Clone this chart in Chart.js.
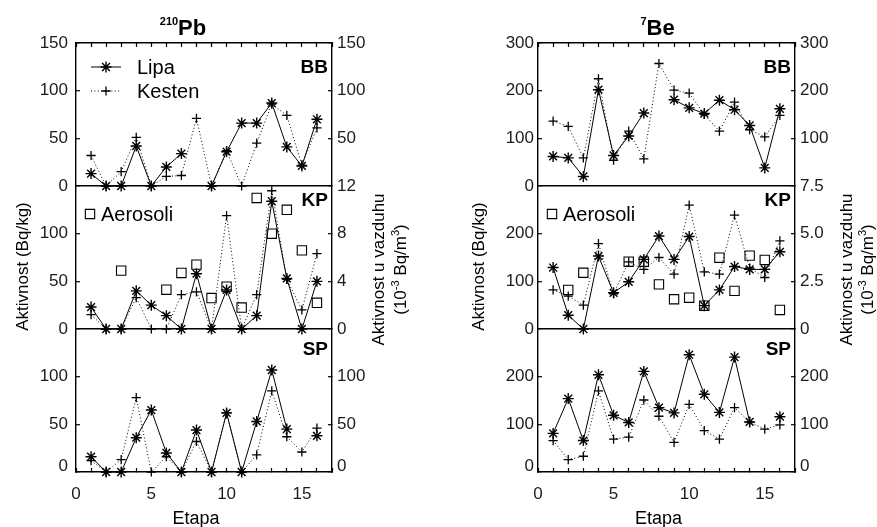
<!DOCTYPE html>
<html>
<head>
<meta charset="utf-8">
<script src="https://cdn.jsdelivr.net/npm/chart.js@4.4.1/dist/chart.umd.min.js"></script>
<style>
html,body{margin:0;padding:0;background:#fff;width:877px;height:527px;overflow:hidden;}
canvas{position:absolute;top:0;}
#cPb{left:0;}
#cBe{left:438px;}
</style>
</head>
<body>
<canvas id="cPb" width="438" height="527"></canvas>
<canvas id="cBe" width="439" height="527"></canvas>
<script>
// ---------------- data ----------------
const etapa = [1,2,3,4,5,6,7,8,9,10,11,12,13,14,15,16];
const etapaTicks = [0,1,2,3,4,5,6,7,8,9,10,11,12,13,14,15,16,17];
const etapaTickLabels = [0,5,10,15];

// 210Pb (Bq/kg), aerosoli in 10^-3 Bq/m3
const pbLipaBB    = [13,0,0,42,0,20,34,null,0,36,66,66,87,41,21,70];
const pbKestenBB  = [32,0,15,51,0,10,11,71,0,37,0,45,86,74,22,61];
const pbLipaKP    = [23,0,0,40,25,14,0,58,0,41,0,14,134,53,0,50];
const pbKestenKP  = [15,0,0,33,0,0,36,39,0,119,0,36,145,52,20,79];
const pbAerosoliKP= [null,null,4.9,null,null,3.3,4.7,5.4,2.6,3.55,1.8,11,8,10,6.6,2.2];
const pbLipaSP    = [16,0,0,36,65,20,0,44,0,62,0,53,107,45,null,38];
const pbKestenSP  = [12,0,13,78,0,16,0,32,0,62,0,18,85,37,21,46];

// 7Be
const beLipaBB    = [62,59,20,202,64,105,153,null,181,164,152,180,160,127,38,162];
const beKestenBB  = [136,125,59,225,54,115,57,257,201,195,150,115,176,118,103,148];
const beLipaKP    = [129,29,0,153,76,99,146,195,146,194,49,82,131,125,125,162];
const beKestenKP  = [82,69,50,179,74,141,125,150,115,260,120,115,239,128,108,185];
const beAerosoliKP= [null,2.05,2.95,null,null,3.53,3.53,2.34,1.56,1.64,1.22,3.74,2.0,3.85,3.62,1.0];
const beLipaSP    = [81,154,66,204,119,104,211,135,124,246,163,125,241,105,null,116];
const beKestenSP  = [66,26,33,170,69,73,151,117,62,142,87,69,135,105,90,99];

// tick values / labels
const pbLeftTicksBB  = [0,50,100,150];
const pbLeftTicksKP  = [0,50,100];
const pbLeftTicksSP  = [0,50,100];
const pbRightTicksBB = [50,100,150];
const pbRightTicksKP = [0,4,8,12];
const pbRightTicksSP = [0,50,100];

const beLeftTicksBB  = [0,100,200,300];
const beLeftTicksKP  = [0,100,200];
const beLeftTicksSP  = [0,100,200];
const beRightTicksBB = [100,200,300];
const beRightTicksKP = [0,2.5,5,7.5];
const beRightTickLabelsKP = ['0','2.5','5.0','7.5'];
const beRightTicksSP = [0,100,200];

// ---------------- styling ----------------
const FONT = "'Liberation Sans', Arial, Helvetica, sans-serif";
const INK = '#000';
const TICK_INK = '#1c1c1c';
const AXIS_W = 1.4;

function pts(arr){ return etapa.map((e,i)=>({x:e, y:arr[i]})); }
function fixedTicks(values){ return s => { s.ticks = values.map(v=>({value:v})); }; }

function lipaDs(arr, axis){
  return {label:'Lipa', data:pts(arr), xAxisID:'x', yAxisID:axis,
    borderColor:INK, borderWidth:1, pointStyle:'star', pointRadius:5.5, pointHoverRadius:5.5,
    pointBorderWidth:1.4, pointBorderColor:INK, pointBackgroundColor:INK,
    fill:false, tension:0, spanGaps:false, clip:false};
}
function kestenDs(arr, axis){
  return {label:'Kesten', data:pts(arr), xAxisID:'x', yAxisID:axis,
    borderColor:INK, borderWidth:1, borderDash:[1,2.4], pointStyle:'cross', pointRadius:4.6, pointHoverRadius:4.6,
    pointBorderWidth:1.3, pointBorderColor:INK, pointBackgroundColor:INK,
    fill:false, tension:0, spanGaps:false, clip:false};
}
function aerDs(arr, axis){
  return {label:'Aerosoli', data:pts(arr), xAxisID:'x', yAxisID:axis, showLine:false,
    borderColor:INK, pointStyle:'rect', pointRadius:6.6, pointHoverRadius:6.6,
    pointBorderWidth:1.1, pointBorderColor:INK, pointBackgroundColor:'rgba(0,0,0,0)', clip:false};
}

function yAxis(o){
  return {
    type:'linear', position:o.pos, stack:'col', stackWeight:1,
    min:o.min, max:o.max,
    afterBuildTicks: fixedTicks(o.ticks),
    afterFit: s => { s.width = o.width; },
    ticks:{
      padding:o.pad, color:TICK_INK, autoSkip:false,
      font: c => ({family:FONT, size:17, lineHeight:(o.shiftZero && c.tick && c.tick.value===0) ? 0.62 : 1.2}),
      callback: (v,i) => {
        const lab = o.labels ? o.labels[i] : String(v);
        return (o.shiftZero && v===0) ? [lab,''] : lab;
      }
    },
    grid:{
      drawOnChartArea:!!o.sep, drawTicks:true, tickLength:-4, tickColor:INK, tickWidth:1.2, lineWidth:AXIS_W,
      color: c => (o.sep && c.tick && c.tick.value===0) ? INK : 'rgba(0,0,0,0)'
    },
    border:{display:true, color:INK, width:AXIS_W}
  };
}

function xAxis(pos){
  const bottom = pos==='bottom';
  return {
    type:'linear', position:pos, min:0, max:17,
    afterBuildTicks: fixedTicks(etapaTicks),
    afterFit: s => { s.height = bottom ? 55 : 0; },
    ticks:{display:bottom, autoSkip:false, maxRotation:0, padding:16, color:TICK_INK,
      font:{family:FONT, size:17},
      callback: v => etapaTickLabels.includes(v) ? String(v) : ''},
    grid:{drawOnChartArea:false, drawTicks:true, tickLength:-4, tickColor:INK, tickWidth:1.2},
    border:{display:true, color:INK, width:AXIS_W}
  };
}

// ---------------- text helpers ----------------
function fontStr(s){ return (s.bold ? 'bold ' : '') + s.size + 'px ' + FONT; }
function rich(ctx, segs, cx, y){
  let w = 0;
  segs.forEach(s => { ctx.font = fontStr(s); s.w = ctx.measureText(s.t).width; w += s.w; });
  let x = cx - w/2;
  ctx.textAlign = 'left'; ctx.textBaseline = 'alphabetic';
  segs.forEach(s => { ctx.font = fontStr(s); ctx.fillText(s.t, x, y + (s.dy||0)); x += s.w; });
}
function vrich(ctx, segs, x, cy){
  ctx.save(); ctx.translate(x, cy); ctx.rotate(-Math.PI/2);
  rich(ctx, segs, 0, segs[0].size*0.36);
  ctx.restore();
}
function marker(ctx, style, r, bw, x, y){
  ctx.save(); ctx.setLineDash([]); ctx.lineWidth = bw; ctx.strokeStyle = INK;
  ctx.fillStyle = style==='rect' ? 'rgba(0,0,0,0)' : INK;
  Chart.helpers.drawPoint(ctx, {pointStyle:style, radius:r, borderWidth:bw, rotation:0}, x, y);
  ctx.restore();
}

const decor = {
  id:'decor',
  afterDraw(chart, args, o){
    const ctx = chart.ctx, ca = chart.chartArea, sc = chart.scales;
    const cx = (ca.left + ca.right)/2;
    ctx.save();
    ctx.fillStyle = INK; ctx.strokeStyle = INK;
    // main title
    rich(ctx, [{t:o.sup, size:11, bold:true, dy:-10}, {t:o.main, size:22, bold:true}], cx + o.titleDx, ca.top - 8);
    // x title
    rich(ctx, [{t:'Etapa', size:18}], cx + o.xTitleDx, ca.bottom + 52);
    // y titles
    const kpMid = (sc.yKP.top + sc.yKP.bottom)/2;
    vrich(ctx, [{t:'Aktivnost (Bq/kg)', size:17}], ca.left + o.yTitleDx, kpMid + 9);
    vrich(ctx, [{t:'Aktivnost u vazduhu', size:17}], ca.right + o.rTitleDx[0], kpMid + 12);
    vrich(ctx, [{t:'(10', size:17}, {t:'-3', size:11, dy:-7}, {t:' Bq/m', size:17}, {t:'3', size:11, dy:-7}, {t:')', size:17}],
      ca.right + o.rTitleDx[1], kpMid + 12);
    // panel labels
    ctx.font = 'bold 19px ' + FONT; ctx.textAlign = 'right'; ctx.textBaseline = 'middle';
    ctx.fillText('BB', ca.right - 4, sc.yBB.top + 25);
    ctx.fillText('KP', ca.right - 4, sc.yKP.top + 15);
    ctx.fillText('SP', ca.right - 4, sc.ySP.top + 21);
    // legends
    ctx.font = '20px ' + FONT; ctx.textAlign = 'left'; ctx.textBaseline = 'middle';
    if (o.lineLegend){
      const y1 = sc.yBB.top + 24, y2 = sc.yBB.top + 48;
      ctx.lineWidth = 1; ctx.setLineDash([]);
      ctx.beginPath(); ctx.moveTo(ca.left + 15, y1); ctx.lineTo(ca.left + 45, y1); ctx.stroke();
      marker(ctx, 'star', 5.5, 1.4, ca.left + 30, y1);
      ctx.fillText('Lipa', ca.left + 61, y1 + 1);
      ctx.setLineDash([1,2.4]);
      ctx.beginPath(); ctx.moveTo(ca.left + 15, y2); ctx.lineTo(ca.left + 45, y2); ctx.stroke();
      ctx.setLineDash([]);
      marker(ctx, 'cross', 4.6, 1.3, ca.left + 30, y2);
      ctx.fillText('Kesten', ca.left + 61, y2 + 1);
    }
    const ya = sc.yKP.top + 28;
    marker(ctx, 'rect', 6.6, 1.1, ca.left + 14, ya);
    ctx.fillText('Aerosoli', ca.left + 25, ya + 1);
    ctx.restore();
  }
};

function buildChart(id, c){
  const datasets = [
    lipaDs(c.lipaBB,'yBB'), kestenDs(c.kestenBB,'yBB'),
    lipaDs(c.lipaKP,'yKP'), kestenDs(c.kestenKP,'yKP'), aerDs(c.aerKP,'rKP'),
    lipaDs(c.lipaSP,'ySP'), kestenDs(c.kestenSP,'ySP')
  ];
  const scales = {
    x: xAxis('bottom'),
    xTop: xAxis('top'),
    // left stack (defined bottom -> top)
    ySP: yAxis({pos:'left', min:0, max:c.maxL, ticks:c.lTicksSP, width:c.lw, pad:c.lpad, shiftZero:true}),
    yKP: yAxis({pos:'left', min:0, max:c.maxL, ticks:c.lTicksKP, width:c.lw, pad:c.lpad, sep:true}),
    yBB: yAxis({pos:'left', min:0, max:c.maxL, ticks:c.lTicksBB, width:c.lw, pad:c.lpad, sep:true}),
    // right stack (defined top -> bottom)
    rBB: yAxis({pos:'right', min:0, max:c.maxL, ticks:c.rTicksBB, width:c.rw, pad:c.rpad}),
    rKP: yAxis({pos:'right', min:0, max:c.maxA, ticks:c.rTicksKP, labels:c.rLabelsKP, width:c.rw, pad:c.rpad}),
    rSP: yAxis({pos:'right', min:0, max:c.maxL, ticks:c.rTicksSP, width:c.rw, pad:c.rpad, shiftZero:true})
  };
  return new Chart(document.getElementById(id), {
    type:'line',
    data:{datasets},
    options:{
      responsive:false, animation:false, devicePixelRatio:1, events:[],
      layout:{padding:{top:43, left:0, right:0, bottom:0}},
      plugins:{legend:{display:false}, tooltip:{enabled:false}, title:{display:false}, decor:c.decor},
      scales
    },
    plugins:[decor]
  });
}

buildChart('cPb', {
  lipaBB:pbLipaBB, kestenBB:pbKestenBB, lipaKP:pbLipaKP, kestenKP:pbKestenKP, aerKP:pbAerosoliKP,
  lipaSP:pbLipaSP, kestenSP:pbKestenSP,
  maxL:150, maxA:12,
  lTicksBB:pbLeftTicksBB, lTicksKP:pbLeftTicksKP, lTicksSP:pbLeftTicksSP,
  rTicksBB:pbRightTicksBB, rTicksKP:pbRightTicksKP, rTicksSP:pbRightTicksSP,
  lw:76, rw:106, lpad:12, rpad:9,
  decor:{sup:'210', main:'Pb', titleDx:-21, xTitleDx:-8, yTitleDx:-54, rTitleDx:[46,68], lineLegend:true}
});

buildChart('cBe', {
  lipaBB:beLipaBB, kestenBB:beKestenBB, lipaKP:beLipaKP, kestenKP:beKestenKP, aerKP:beAerosoliKP,
  lipaSP:beLipaSP, kestenSP:beKestenSP,
  maxL:300, maxA:7.5,
  lTicksBB:beLeftTicksBB, lTicksKP:beLeftTicksKP, lTicksSP:beLeftTicksSP,
  rTicksBB:beRightTicksBB, rTicksKP:beRightTicksKP, rLabelsKP:beRightTickLabelsKP, rTicksSP:beRightTicksSP,
  lw:100, rw:82, lpad:8, rpad:9,
  decor:{sup:'7', main:'Be', titleDx:-9, xTitleDx:-8, yTitleDx:-60, rTitleDx:[51,72], lineLegend:false}
});
</script>
</body>
</html>
